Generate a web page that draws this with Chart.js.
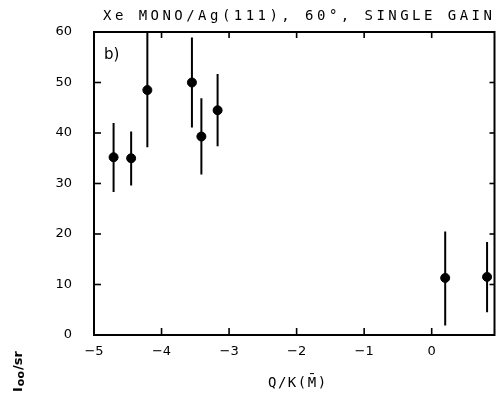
<!DOCTYPE html>
<html><head><meta charset="utf-8">
<script src="https://cdn.jsdelivr.net/npm/chart.js@4"></script>
<style>html,body{margin:0;padding:0;background:#fff}#wrap{width:500px;height:393px}</style>
</head><body><div id="wrap"><canvas id="c" width="500" height="393"></canvas></div>
<script>
const titleText = "Xe MONO/Ag(111), 60°, SINGLE GAIN";
const panelLabel = "b)";
const xTitle = "Q/K(M\u0304)";
const qValues   = [-4.71, -4.45, -4.21, -3.55, -3.41, -3.17, 0.20, 0.82];
const intensity = [35.2, 35.0, 48.5, 50.0, 39.3, 44.5, 11.3, 11.5];
const errLow    = [28.3, 29.6, 37.2, 41.1, 31.8, 37.4, 1.9, 4.5];
const errHigh   = [42.0, 40.3, 60.0, 58.9, 46.9, 51.7, 20.5, 18.4];
const xTicks = [-5, -4, -3, -2, -1, 0];
const yTicks = [0, 10, 20, 30, 40, 50, 60];

const FONT = '"DejaVu Sans", sans-serif';
const MONO = '"DejaVu Sans Mono", monospace';

const deco = {
  id: 'deco',
  beforeDatasetsDraw(chart) {
    const ctx = chart.ctx, xs = chart.scales.x, ys = chart.scales.y;
    const a = chart.chartArea;
    ctx.save();
    ctx.beginPath(); ctx.rect(a.left, a.top - 1, a.right - a.left, a.bottom - a.top + 2); ctx.clip();
    ctx.strokeStyle = '#000'; ctx.lineWidth = 2;
    for (let i = 0; i < qValues.length; i++) {
      const x = xs.getPixelForValue(qValues[i]);
      ctx.beginPath();
      ctx.moveTo(x, ys.getPixelForValue(errLow[i]));
      ctx.lineTo(x, ys.getPixelForValue(errHigh[i]));
      ctx.stroke();
    }
    ctx.restore();
  },
  afterDraw(chart) {
    const ctx = chart.ctx, xs = chart.scales.x, ys = chart.scales.y;
    const a = chart.chartArea;
    ctx.save();
    ctx.strokeStyle = '#000'; ctx.lineWidth = 2;
    ctx.strokeRect(a.left, a.top, a.right - a.left, a.bottom - a.top);
    ctx.lineWidth = 1.6;
    xTicks.forEach(v => {
      if (v === xTicks[0]) return;
      const x = xs.getPixelForValue(v);
      ctx.beginPath(); ctx.moveTo(x, a.bottom); ctx.lineTo(x, a.bottom - 7); ctx.stroke();
      ctx.beginPath(); ctx.moveTo(x, a.top); ctx.lineTo(x, a.top + 6); ctx.stroke();
    });
    yTicks.forEach(v => {
      if (v === 0 || v === 60) return;
      const y = ys.getPixelForValue(v);
      ctx.beginPath(); ctx.moveTo(a.left, y); ctx.lineTo(a.left + 7, y); ctx.stroke();
      ctx.beginPath(); ctx.moveTo(a.right, y); ctx.lineTo(a.right - 5, y); ctx.stroke();
    });
    ctx.fillStyle = '#000';
    // title
    ctx.font = '14px ' + MONO;
    ctx.textBaseline = 'alphabetic'; ctx.textAlign = 'left';
    ctx.letterSpacing = '0px';
    const w0 = ctx.measureText(titleText).width;
    ctx.letterSpacing = ((389 - w0) / (titleText.length - 1)).toFixed(2) + 'px';
    ctx.fillText(titleText, 103, 20);
    // x title
    ctx.font = '14px ' + MONO;
    ctx.letterSpacing = '1.5px';
    ctx.fillText(xTitle, 268, 387);
    ctx.letterSpacing = '0px';
    // panel label
    ctx.font = '15px ' + FONT;
    ctx.fillText(panelLabel, a.left + 10, 59);
    // y title rotated
    ctx.translate(22, 392);
    ctx.rotate(-Math.PI / 2);
    ctx.font = 'bold 13px ' + FONT;
    ctx.fillText('I', 0, 0);
    let px = ctx.measureText('I').width + 1;
    ctx.font = 'bold 11px ' + FONT;
    ctx.fillText('oo', px, 2);
    px += ctx.measureText('oo').width + 1;
    ctx.font = 'bold 13px ' + FONT;
    ctx.fillText('/sr', px, 0);
    ctx.restore();
  }
};

new Chart(document.getElementById('c'), {
  type: 'scatter',
  data: { datasets: [{
    data: qValues.map((q, i) => ({ x: q, y: intensity[i] })),
    backgroundColor: '#000', borderColor: '#000',
    pointRadius: 4.5, pointHoverRadius: 4.5
  }]},
  options: {
    responsive: false, animation: false, events: [],
    layout: { padding: { top: 32, right: 1, left: 0, bottom: 0 } },
    plugins: { legend: { display: false }, tooltip: { enabled: false } },
    scales: {
      x: {
        type: 'linear', min: -5, max: 0.93,
        grid: { display: false }, border: { display: false },
        afterBuildTicks: s => { s.ticks = xTicks.map(v => ({ value: v })); },
        afterFit: s => { s.height = 58; },
        ticks: { color: '#000', padding: 1, maxRotation: 0, autoSkip: false,
          font: { family: FONT, size: 13 },
          callback: v => String(v).replace('-', '\u2212') }
      },
      y: {
        type: 'linear', min: 0, max: 60,
        grid: { display: false }, border: { display: false },
        afterBuildTicks: s => { s.ticks = yTicks.map(v => ({ value: v })); },
        afterFit: s => { s.width = 94; },
        ticks: { color: '#000', padding: 14, font: { family: FONT, size: 13 } }
      }
    }
  },
  plugins: [deco]
});
</script></body></html>
